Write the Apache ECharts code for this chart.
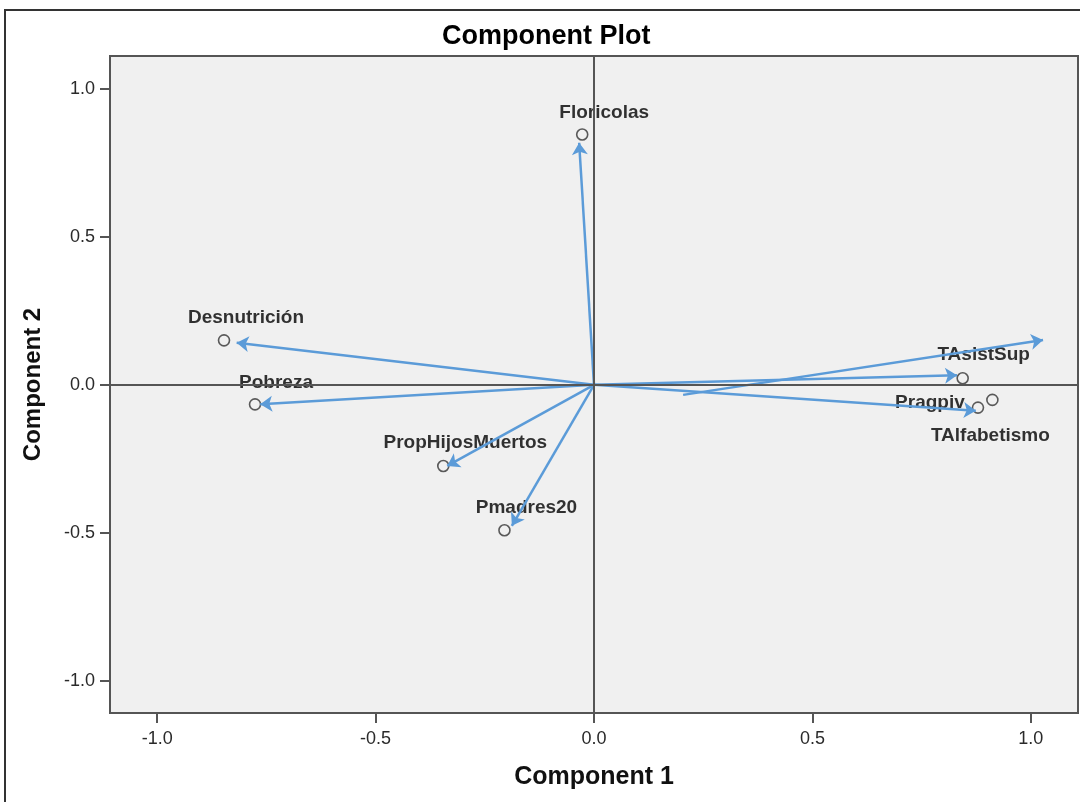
<!DOCTYPE html>
<html>
<head>
<meta charset="utf-8">
<script src="https://cdn.jsdelivr.net/npm/echarts@6/dist/echarts.min.js"></script>
<style>
html,body{margin:0;padding:0;background:#fff;}
#chart{width:1080px;height:802px;}
</style>
</head>
<body>
<div id="chart"></div>
<script>
// Component loadings (points)
const variables = ['Floricolas','Desnutrición','Pobreza','PropHijosMuertos','Pmadres20','TAsistSup','Pragpiv','TAlfabetismo'];
const comp1 = [-0.027,-0.847,-0.776,-0.345,-0.205,0.844,0.879,0.912];
const comp2 = [0.845,0.150,-0.066,-0.274,-0.491,0.022,-0.077,-0.051];

// Arrows (start -> tip), as drawn in the picture
const arrowStart1 = [0,0,0,0,0,0,0,0.204];
const arrowStart2 = [0,0,0,0,0,0,0,-0.034];
const arrowEnd1 = [-0.034,-0.818,-0.764,-0.336,-0.188,0.831,0.874,1.028];
const arrowEnd2 = [0.817,0.142,-0.066,-0.274,-0.476,0.032,-0.088,0.151];

// Axis ticks
const tickValues = [-1.0,-0.5,0.0,0.5,1.0];

// label offsets (styling only)
const labelOffsets = {
  'Floricolas':[22,-22],'Desnutrición':[22,-23],'Pobreza':[21,-22],'PropHijosMuertos':[22,-23],
  'Pmadres20':[22,-22],'TAsistSup':[21,-24],'Pragpiv':[-48,-5],'TAlfabetismo':[-2,36]
};

const chart = echarts.init(document.getElementById('chart'));
const fontFam = '"Liberation Sans", Arial, sans-serif';

const pointData = variables.map((v,i)=>({
  name:v, value:[comp1[i],comp2[i]],
  label:{offset:labelOffsets[v]}
}));
const arrowData = arrowStart1.map((s,i)=>({coords:[[s,arrowStart2[i]],[arrowEnd1[i],arrowEnd2[i]]]}));

const axisCommon = {
  type:'value',
  min:-1.108, max:1.108,
  axisLine:{show:true,onZero:false,lineStyle:{color:'#555',width:2}},
  axisTick:{show:true,customValues:tickValues,length:10,lineStyle:{color:'#555',width:2}},
  axisLabel:{customValues:tickValues,formatter:v=>v.toFixed(1),color:'#2a2a2a',fontSize:18,fontFamily:fontFam},
  splitLine:{show:false},
  nameLocation:'middle',
  nameTextStyle:{color:'#111',fontWeight:'bold',fontFamily:fontFam}
};

chart.setOption({
  animation:false,
  backgroundColor:'#fff',
  title:{text:'Component Plot',left:437,top:18,
    textStyle:{fontSize:27,fontWeight:'bold',color:'#000',fontFamily:fontFam}},
  grid:{left:110,right:2,top:56,bottom:89,show:true,backgroundColor:'#f0f0f0',borderColor:'#555',borderWidth:2},
  xAxis:Object.assign({},axisCommon,{name:'Component 1',nameGap:52,
    axisLabel:Object.assign({},axisCommon.axisLabel,{margin:17}),
    nameTextStyle:Object.assign({},axisCommon.nameTextStyle,{fontSize:25})}),
  yAxis:Object.assign({},axisCommon,{min:-1.108,max:1.11,name:'Component 2',nameGap:65,
    axisLabel:Object.assign({},axisCommon.axisLabel,{margin:15}),
    nameTextStyle:Object.assign({},axisCommon.nameTextStyle,{fontSize:24})}),
  graphic:[{type:'rect',shape:{x:5,y:10,width:1200,height:900},style:{fill:'none',stroke:'#333',lineWidth:2},silent:true,z:-1}],
  series:[
    {
      type:'scatter',
      data:pointData,
      symbol:'circle',symbolSize:11,
      itemStyle:{color:'rgba(0,0,0,0)',borderColor:'#333',borderWidth:1.6},
      label:{show:true,position:'inside',formatter:p=>p.name,color:'#000',fontWeight:'bold',fontSize:19,fontFamily:fontFam,textBorderWidth:0},
      markLine:{silent:true,symbol:'none',animation:false,label:{show:false},
        lineStyle:{color:'#555',width:2,type:'solid'},
        data:[{xAxis:0},{yAxis:0}]},
      z:3
    },
    {
      type:'lines',
      coordinateSystem:'cartesian2d',
      data:arrowData,
      symbol:['none','arrow'],symbolSize:12,
      lineStyle:{color:'#5B9BD8',width:2.5,opacity:1,curveness:0},
      z:4
    }
  ]
});
</script>
</body>
</html>
